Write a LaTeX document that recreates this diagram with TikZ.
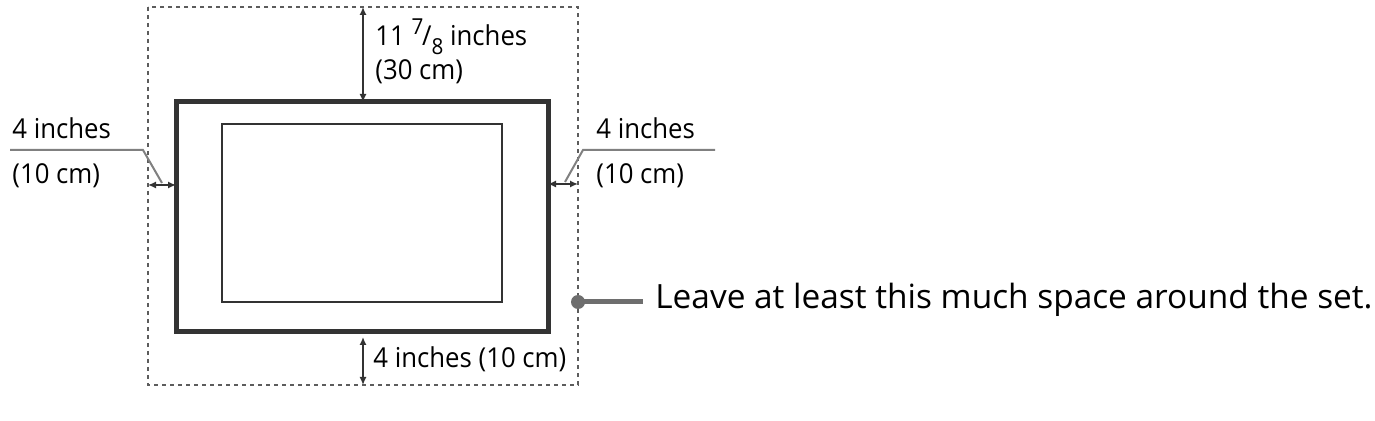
\documentclass[tikz,border=0pt]{standalone}
\usepackage{fontspec}
\setmainfont{Open Sans}
\newfontfamily\lblfont{Open Sans}[FakeStretch=0.94]
\usetikzlibrary{arrows.meta}
\definecolor{dk}{HTML}{333333}
\definecolor{ld}{HTML}{808080}
\definecolor{lg}{HTML}{6E6E6E}
\begin{document}
\begin{tikzpicture}[x=0.5pt,y=-0.5pt,
  dim/.style={draw=dk,line width=1pt,{Latex[length=4pt,width=3.6pt]}-{Latex[length=4pt,width=3.6pt]}},
  leader/.style={draw=ld,line width=1pt},
  lbl/.style={anchor=base west,inner sep=0pt,font=\lblfont\fontsize{13.7}{16}\selectfont,text=black},
  spacebox/.style={draw=dk!80,line width=0.75pt,dash pattern=on 2pt off 2pt}]
\useasboundingbox (0,0) rectangle (1375,421);
% space rectangle
\coordinate (sA) at (148,7);
\coordinate (sB) at (578,385);
\draw[spacebox] (sA) rectangle (sB);
% TV
\coordinate (tA) at (176,102);
\coordinate (tB) at (548,332);
\draw[dk,line width=2.5pt] (tA) rectangle (tB);
\coordinate (iA) at (222,124);
\coordinate (iB) at (502,302);
\draw[dk,line width=1pt] (iA) rectangle (iB);
% top dimension
\coordinate (t1) at (363,7);
\coordinate (t2) at (363,102);
\draw[dim] (t1) -- (t2);
\node[lbl] (ttop) at (375,46) {11\kern0.25em\raisebox{5.5pt}{\lblfont\fontsize{11}{11}\selectfont 7}\kern-0.05em/\raisebox{-4.5pt}{\lblfont\fontsize{11}{11}\selectfont 8} inches};
\node[lbl] (ttop2) at (375,80) {(30 cm)};
% bottom dimension
\coordinate (b1) at (363,337);
\coordinate (b2) at (363,385);
\draw[dim] (b1) -- (b2);
\node[lbl] (tbot) at (373,368) {4 inches (10 cm)};
% left dimension
\coordinate (l1) at (148,185);
\coordinate (l2) at (176,185);
\draw[dim] (l1) -- (l2);
\node[lbl] (tl1) at (12,139) {4 inches};
\node[lbl] (tl2) at (12,184) {(10 cm)};
\coordinate (ll0) at (10,150);
\coordinate (ll1) at (143,150);
\coordinate (ll2) at (162,183);
\draw[leader] (ll0) -- (ll1) -- (ll2);
% right dimension
\coordinate (r1) at (548,184);
\coordinate (r2) at (578,184);
\draw[dim] (r1) -- (r2);
\node[lbl] (tr1) at (596,139) {4 inches};
\node[lbl] (tr2) at (596,184) {(10 cm)};
\coordinate (rl0) at (715,150);
\coordinate (rl1) at (583,150);
\coordinate (rl2) at (565,182);
\draw[leader] (rl0) -- (rl1) -- (rl2);
% legend
\coordinate (dot) at (578,302);
\coordinate (dotE) at (643,302);
\draw[lg,line width=2.5pt] (dot) -- (dotE);
\fill[lg] (dot) circle (7);
\node[anchor=base west,inner sep=0pt,font=\fontsize{16.7}{20}\selectfont] (leg) at (655,309) {Leave at least this much space around the set.};
\end{tikzpicture}
\end{document}
